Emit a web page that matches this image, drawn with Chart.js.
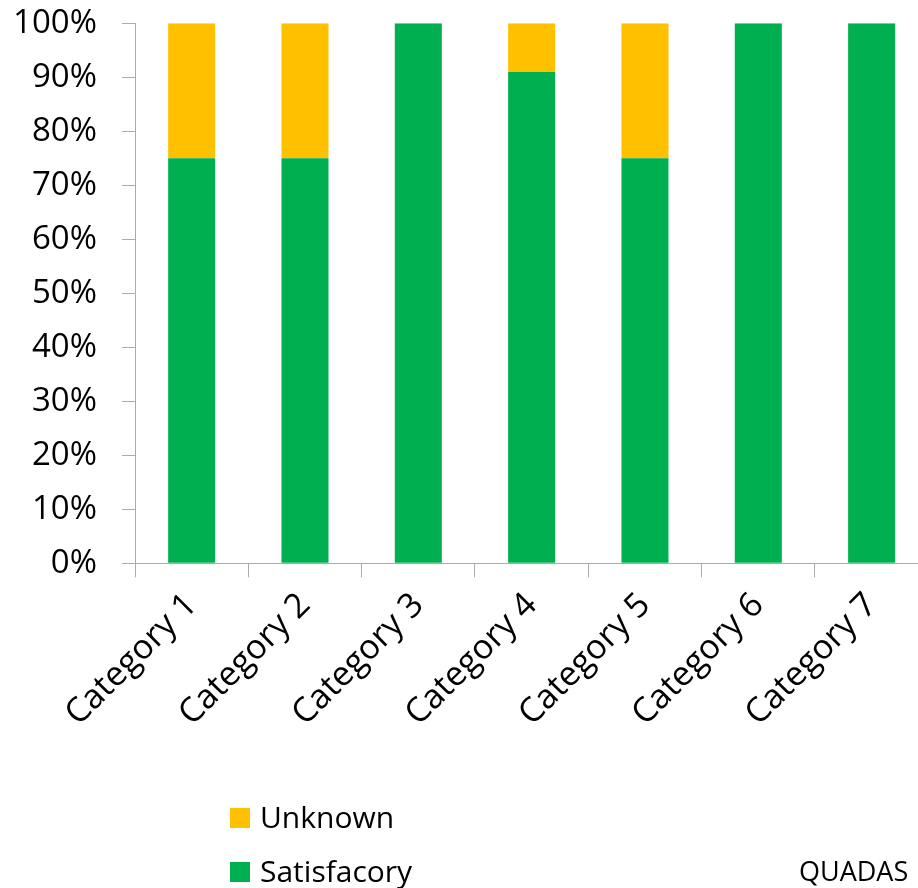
<!DOCTYPE html>
<html>
<head>
<meta charset="utf-8">
<title>QUADAS</title>
<script src="https://cdn.jsdelivr.net/npm/chart.js@4.4.1/dist/chart.umd.min.js"></script>
<style>
  html, body { margin: 0; padding: 0; overflow: hidden; background: #fff; }
  #wrap { position: absolute; left: 0; top: 0; width: 940px; height: 888px; }
</style>
</head>
<body>
<div id="wrap"><canvas id="chart" width="940" height="888"></canvas></div>
<script>
// Quality assessment per category (percent of studies)
const categories = ['Category 1', 'Category 2', 'Category 3', 'Category 4', 'Category 5', 'Category 6', 'Category 7'];
const satisfactory = [75, 75, 100, 91, 75, 100, 100];
const unknown = [25, 25, 0, 9, 25, 0, 0];
const seriesNames = ['Satisfacory', 'Unknown'];
const seriesColors = ['#00B050', '#FFC000'];
const caption = 'QUADAS';

const FONT = "'Open Sans', 'DejaVu Sans', sans-serif";
const AXIS_GREY = '#ababab';

// Vertical legend (last series on top) plus the caption in the lower right
const sideLegend = {
  id: 'sideLegend',
  afterDraw(chart) {
    const ctx = chart.ctx;
    const ds = chart.data.datasets.slice().reverse();
    ctx.save();
    ctx.textBaseline = 'middle';
    ctx.textAlign = 'left';
    ctx.font = '30px ' + FONT;
    ds.forEach((d, i) => {
      const cy = 818 + i * 54;
      ctx.fillStyle = d.backgroundColor;
      ctx.fillRect(230, cy - 10, 20, 20);
      ctx.fillStyle = '#000';
      ctx.fillText(d.label, 260, cy + 1);
    });
    ctx.font = '27px ' + FONT;
    ctx.fillText(caption, 799, 873);
    ctx.restore();
  }
};

new Chart(document.getElementById('chart'), {
  type: 'bar',
  data: {
    labels: categories,
    datasets: [
      { label: seriesNames[0], data: satisfactory, backgroundColor: seriesColors[0], borderWidth: 0 },
      { label: seriesNames[1], data: unknown, backgroundColor: seriesColors[1], borderWidth: 0 }
    ]
  },
  options: {
    responsive: false,
    animation: false,
    devicePixelRatio: 1,
    barPercentage: 0.415,
    categoryPercentage: 1,
    layout: { padding: { left: 0, top: 23.3, right: 11.7, bottom: 0 } },
    plugins: {
      legend: { display: false },
      tooltip: { enabled: false }
    },
    scales: {
      x: {
        stacked: true,
        offset: true,
        grid: { offset: true, drawOnChartArea: false, drawTicks: true, tickLength: 14, color: AXIS_GREY },
        border: { display: true, color: AXIS_GREY, width: 1 },
        ticks: {
          color: '#000',
          font: { family: FONT, size: 34 },
          minRotation: 45,
          maxRotation: 45,
          autoSkip: false,
          padding: 8
        },
        afterFit(scale) { scale.height = 888 - 563.3; }
      },
      y: {
        stacked: true,
        min: 0,
        max: 100,
        grid: { drawOnChartArea: false, drawTicks: true, tickLength: 13, color: AXIS_GREY },
        border: { display: true, color: AXIS_GREY, width: 1 },
        ticks: {
          stepSize: 10,
          color: '#000',
          font: { family: FONT, size: 33 },
          padding: 25,
          callback: (v) => v + '%'
        },
        afterFit(scale) {
          scale.width = 135;
          // keep the plot top at the layout padding instead of label padding
          scale.paddingTop = 0;
          scale.paddingBottom = 0;
        }
      }
    }
  },
  plugins: [sideLegend]
});
</script>
</body>
</html>
